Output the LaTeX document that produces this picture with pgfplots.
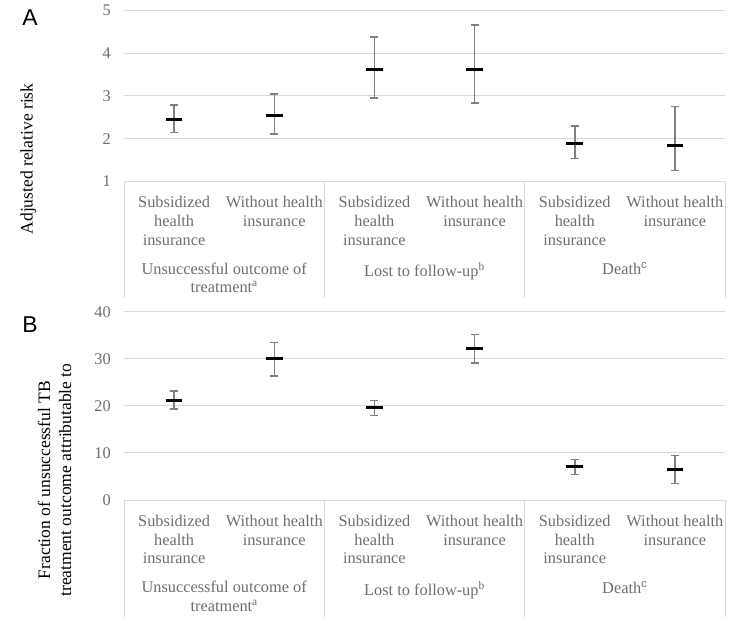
\documentclass[border=0pt]{standalone}
\usepackage{pgfplots}
\usepackage{pgfplotstable}
\pgfplotsset{compat=1.18}
\usepackage{fontspec}
\setmainfont{Liberation Serif}
\newfontfamily\arial{Liberation Sans}
\definecolor{txtgray}{HTML}{6E6E6E}
\definecolor{gridgray}{HTML}{D9D9D9}
\definecolor{errgray}{HTML}{7F7F7F}

\pgfplotstableread{
x y lo hi
1 2.45 2.14 2.79
2 2.54 2.11 3.05
3 3.61 2.95 4.38
4 3.63 2.84 4.66
5 1.88 1.53 2.30
6 1.85 1.25 2.75
}\dataA
\pgfplotstableread{
x y lo hi
1 21.2 19.3 23.2
2 30.0 26.3 33.5
3 19.6 18.0 21.1
4 32.1 29.1 35.2
5 7.1 5.4 8.6
6 6.4 3.5 9.5
}\dataB

\pgfplotsset{
 panel/.style={
  scale only axis, width=601bp, anchor=south west,
  xmin=0.5, xmax=6.5,
  axis line style={draw=none}, major tick length=0pt,
  ymajorgrids, grid style={gridgray, line width=1bp},
  xtick={1,...,6},
  xticklabels={{Subsidized\\health\\insurance},{Without health\\insurance},{Subsidized\\health\\insurance},{Without health\\insurance},{Subsidized\\health\\insurance},{Without health\\insurance}},
  xticklabel style={align=center, font=\fontsize{16.4}{18.7}\selectfont, text=txtgray, anchor=north, inner sep=0pt, yshift=-15bp},
  extra x ticks={1.5,3.5,5.5},
  extra x tick labels={{Unsuccessful outcome of\\treatment\textsuperscript{a}},{Lost to follow-up\textsuperscript{b}},{Death\textsuperscript{\arial c}}},
  extra x tick style={grid=none, major tick length=0pt, tick label style={yshift=-66bp}},
  yticklabel style={font=\fontsize{16.4}{18}\selectfont, text=txtgray, inner sep=0pt, xshift=-13bp},
  /pgf/number format/assume math mode=true,
  ylabel style={font=\fontsize{17.6}{21}\selectfont, text=black, anchor=center, align=center},
  clip=false,
 },
 ci/.style={only marks, mark=-, mark size=8.3bp, mark options={black, line width=3bp},
  error bars/.cd, y dir=both, y explicit,
  error bar style={errgray, line width=1.5bp},
  error mark options={errgray, line width=1.5bp, mark size=4bp, rotate=90}},
}

\begin{document}
\begin{tikzpicture}
\path[use as bounding box] (0,0) rectangle (748bp,629bp);

\begin{axis}[panel, at={(124bp,447.7bp)}, height=170.6bp,
  ymin=1, ymax=5, ytick={1,2,3,4,5},
  ylabel={Adjusted relative risk},
  ylabel style={at={(rel axis cs:-0.1589,0.131)}}]
\addplot[ci] table[x=x, y=y, y error plus expr=\thisrow{hi}-\thisrow{y}, y error minus expr=\thisrow{y}-\thisrow{lo}] {\dataA};
\draw[gridgray, line width=1bp] (rel axis cs:0,0) -- ([yshift=-116.7bp]rel axis cs:0,0);
\draw[gridgray, line width=1bp] (rel axis cs:0.33333,0) -- ([yshift=-116.7bp]rel axis cs:0.33333,0);
\draw[gridgray, line width=1bp] (rel axis cs:0.66667,0) -- ([yshift=-116.7bp]rel axis cs:0.66667,0);
\draw[gridgray, line width=1bp] (rel axis cs:1,0) -- ([yshift=-116.7bp]rel axis cs:1,0);
\end{axis}

\begin{axis}[panel, at={(124bp,129bp)}, height=188.3bp,
  ymin=0, ymax=40, ytick={0,10,20,30,40},
  ylabel={Fraction of unsuccessful TB\\treatment outcome attributable to},
  ylabel style={at={(rel axis cs:-0.1156,0.106)}}]
\addplot[ci] table[x=x, y=y, y error plus expr=\thisrow{hi}-\thisrow{y}, y error minus expr=\thisrow{y}-\thisrow{lo}] {\dataB};
\draw[gridgray, line width=1bp] (rel axis cs:0,0) -- ([yshift=-116.7bp]rel axis cs:0,0);
\draw[gridgray, line width=1bp] (rel axis cs:0.33333,0) -- ([yshift=-116.7bp]rel axis cs:0.33333,0);
\draw[gridgray, line width=1bp] (rel axis cs:0.66667,0) -- ([yshift=-116.7bp]rel axis cs:0.66667,0);
\draw[gridgray, line width=1bp] (rel axis cs:1,0) -- ([yshift=-116.7bp]rel axis cs:1,0);
\end{axis}

\node[font=\arial\fontsize{23}{23}\selectfont] at (30bp,611bp) {A};
\node[font=\arial\fontsize{23}{23}\selectfont] at (30bp,304.5bp) {B};
\end{tikzpicture}
\end{document}
